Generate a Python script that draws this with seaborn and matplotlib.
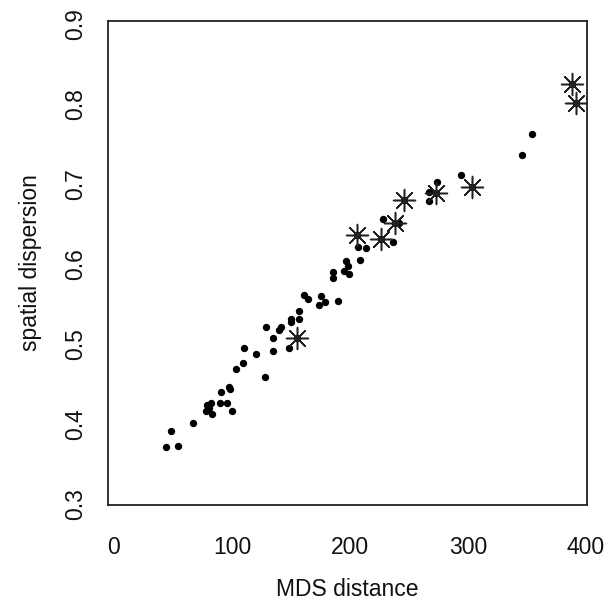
import matplotlib
matplotlib.use("Agg")
import matplotlib.pyplot as plt
import seaborn as sns
import pandas as pd

# ---- data ----
dot_x = [44.3, 54.2, 48.0, 66.7, 79.1, 81.9, 80.8, 78.0, 82.8, 89.6, 95.8, 100.3,
         90.7, 97.5, 98.3, 103.4, 127.7, 109.6, 110.4, 120.6, 134.5, 134.5, 128.6,
         139.6, 141.8, 148.6, 149.7, 149.7, 157.0, 156.8, 161.0, 164.4, 175.2, 173.5,
         179.1, 190.1, 185.8, 185.8, 194.9, 199.4, 196.6, 198.3, 208.5, 206.8, 213.6,
         227.7, 236.7, 241.8, 267.2, 266.7, 273.5, 294.3, 346.0, 354.0]
dot_y = [0.371, 0.373, 0.392, 0.402, 0.424, 0.426, 0.420, 0.416, 0.413, 0.427, 0.427, 0.417,
         0.440, 0.447, 0.444, 0.469, 0.459, 0.477, 0.495, 0.488, 0.492, 0.508, 0.521,
         0.518, 0.521, 0.495, 0.532, 0.528, 0.531, 0.542, 0.562, 0.556, 0.560, 0.549,
         0.553, 0.554, 0.590, 0.583, 0.591, 0.588, 0.604, 0.598, 0.605, 0.621, 0.620,
         0.657, 0.628, 0.651, 0.690, 0.679, 0.703, 0.712, 0.736, 0.763]

star_x = [155.3, 205.7, 226.5, 238.4, 245.8, 272.9, 303.4, 388.1, 391.5]
star_y = [0.508, 0.636, 0.632, 0.651, 0.680, 0.689, 0.696, 0.825, 0.802]

x_ticks = [0, 100, 200, 300, 400]
y_ticks = [0.3, 0.4, 0.5, 0.6, 0.7, 0.8, 0.9]
x_label = "MDS distance"
y_label = "spatial dispersion"

dots = pd.DataFrame({"x": dot_x + star_x, "y": dot_y + star_y})
stars = pd.DataFrame({"x": star_x, "y": star_y})

sns.set_style("white")
plt.rcParams["font.family"] = ["Liberation Sans", "DejaVu Sans"]

fig = plt.figure(figsize=(6.14, 6.07), dpi=100)
ax = fig.add_axes([108 / 614, 1 - 505 / 607, 479 / 614, 484 / 607])

sns.scatterplot(data=dots, x="x", y="y", ax=ax, color="black", s=28,
                linewidth=0, marker="o", legend=False)
sns.scatterplot(data=stars, x="x", y="y", ax=ax, color="#222222", s=250,
                marker=(8, 2, 0), linewidth=1.1, legend=False)

ax.set_xlim(-5, 401)
ax.set_ylim(0.299, 0.904)
ax.set_xticks(x_ticks)
ax.set_xticklabels([str(v) for v in x_ticks])
ax.set_yticks(y_ticks)
ax.set_yticklabels([f"{v:.1f}" for v in y_ticks], rotation=90, va="center")

ax.tick_params(axis="both", direction="in", length=7, width=1.1, color="#333333",
               labelsize=16.5, labelcolor="#111111")
ax.tick_params(axis="x", pad=22)
ax.tick_params(axis="y", pad=15)

for sp in ax.spines.values():
    sp.set_visible(True)
    sp.set_linewidth(1.3)
    sp.set_color("#222222")

ax.set_xlabel(x_label, fontsize=16.5, color="#111111", labelpad=14)
ax.set_ylabel(y_label, fontsize=16.5, color="#111111", labelpad=16)

fig.savefig("out.png", dpi=100, facecolor="white")
